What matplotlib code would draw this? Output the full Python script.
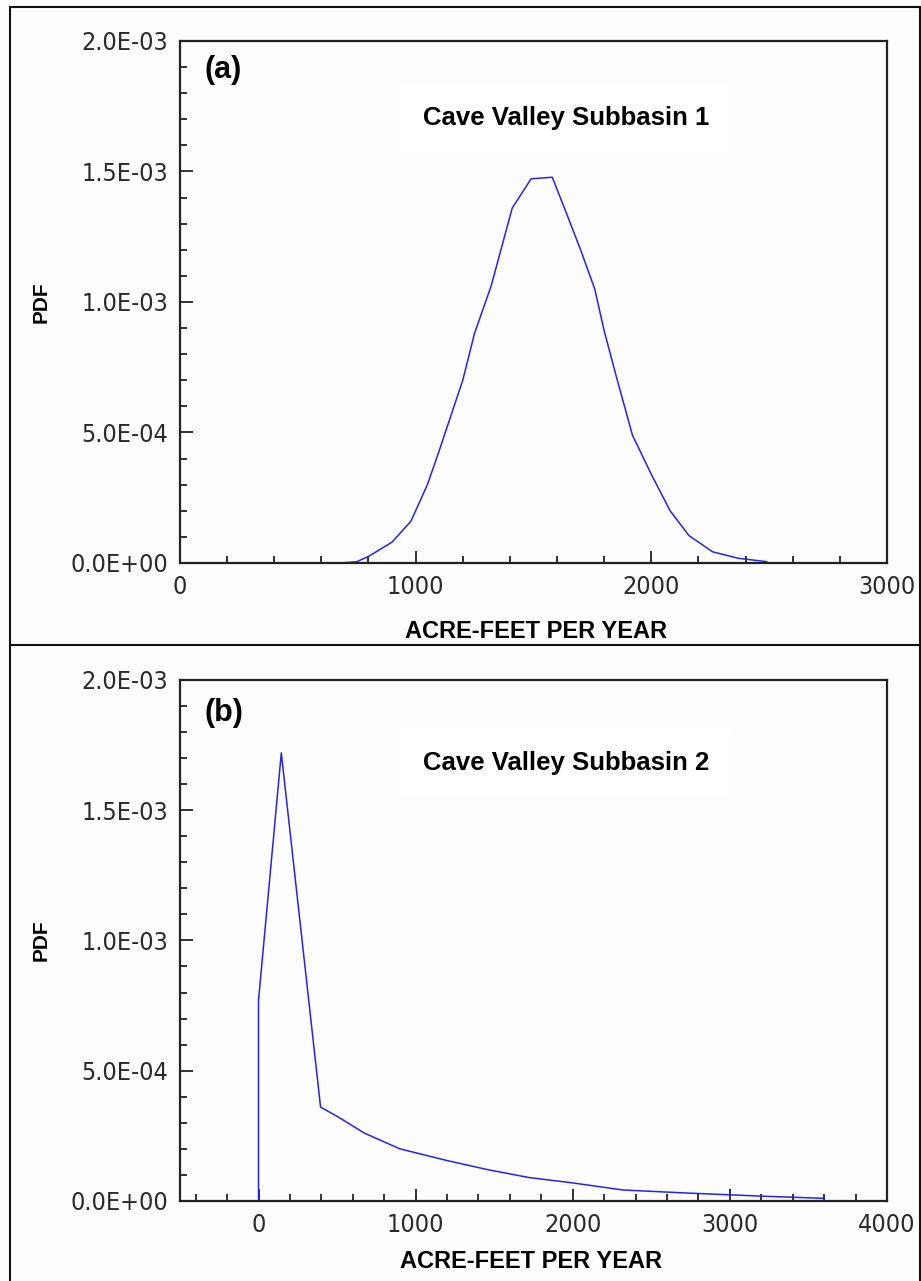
import numpy as np
import matplotlib
matplotlib.use("Agg")
import matplotlib.pyplot as plt
from matplotlib.lines import Line2D
from matplotlib.ticker import MultipleLocator, FuncFormatter

# panel (a): Cave Valley Subbasin 1
xa = [680, 750, 800, 900, 980, 1050, 1100, 1200, 1250, 1320, 1410, 1490, 1580,
      1640, 1700, 1760, 1800, 1850, 1920, 2000, 2080, 2160, 2260, 2370, 2490]
ya = [0, 0.05, 0.25, 0.8, 1.6, 3.0, 4.3, 7.0, 8.8, 10.6, 13.6, 14.72, 14.78,
      13.4, 12.0, 10.5, 8.9, 7.2, 4.9, 3.4, 2.0, 1.05, 0.43, 0.18, 0.05]

# panel (b): Cave Valley Subbasin 2
xb = [0, 0, 145, 395, 500, 675, 900, 1000, 1200, 1460, 1720, 1990, 2320, 2740, 3220, 3600]
yb = [0, 7.7, 17.2, 3.6, 3.25, 2.6, 2.0, 1.85, 1.55, 1.2, 0.9, 0.7, 0.42, 0.3, 0.18, 0.1]

bold = ['Liberation Sans', 'DejaVu Sans']

fig = plt.figure(figsize=(9.21, 12.81), dpi=100)
fig.patch.set_facecolor('#fdfdfd')


def sci(v, pos):
    if v == 0:
        return '0.0E+00'
    return '%.1E' % v


def setup(ax, xlim, tag, title, title_y, xlab_y, xlab_x, tag_y):
    ax.set_facecolor('#fdfdfd')
    ax.set_xlim(*xlim)
    ax.set_ylim(0, 2e-3)
    ax.xaxis.set_major_locator(MultipleLocator(1000))
    ax.xaxis.set_minor_locator(MultipleLocator(200))
    ax.yaxis.set_major_locator(MultipleLocator(5e-4))
    ax.yaxis.set_minor_locator(MultipleLocator(1e-4))
    ax.yaxis.set_major_formatter(FuncFormatter(sci))
    ax.tick_params(which='both', direction='in', top=False, right=False, width=1.3, color='#222222')
    ax.tick_params(which='major', length=9, pad=8.5, labelsize=18, labelcolor='#2a2a2a')
    ax.tick_params(which='minor', length=5)
    # narrow tick font like the original
    for lab in ax.get_xticklabels() + ax.get_yticklabels():
        lab.set_family('DejaVu Sans')
        lab.set_stretch('condensed')
    for sp in ax.spines.values():
        sp.set_linewidth(1.6)
        sp.set_color('#222222')
    ax.set_xlabel('ACRE-FEET PER YEAR', family=bold, fontweight='bold', fontsize=17, va='center')
    ax.xaxis.set_label_coords(xlab_x, xlab_y)
    ax.set_ylabel('PDF', family=bold, fontweight='bold', fontsize=15, va='center')
    ax.yaxis.set_label_coords(-0.196, 0.5)
    ax.text(0.034, tag_y, tag, transform=ax.transAxes, family=bold, fontweight='bold',
            fontsize=22, va='center')
    ax.text(0.546, title_y, title, transform=ax.transAxes, ha='center', va='center',
            family=bold, fontweight='bold', fontsize=18.5,
            bbox=dict(facecolor='white', edgecolor='none', pad=16))


ax1 = fig.add_axes([0.1954, 0.5605, 0.7676, 0.4075])
ax1.plot(xa, np.array(ya) * 1e-4, color='#2222ff', lw=1.1)
setup(ax1, (0, 3000), '(a)', 'Cave Valley Subbasin 1', 0.852, -0.132, 0.5035, 0.944)

ax2 = fig.add_axes([0.1954, 0.0625, 0.7676, 0.4067])
ax2.plot(xb, np.array(yb) * 1e-4, color='#2222ff', lw=1.1)
setup(ax2, (-500, 4000), '(b)', 'Cave Valley Subbasin 2', 0.841, -0.117, 0.497, 0.937)

# outer frame and divider
W, H = 921, 1281
for xs, ys in [([9.5, 9.5], [0, 1274.5]), ([9.5, 920], [1274.5, 1274.5]), ([920, 920], [0, 1274.5]),
               ([9.5, 920], [636, 636])]:
    fig.add_artist(Line2D(np.array(xs) / W, np.array(ys) / H, color='#111111', lw=1.5))

fig.savefig('out.png', dpi=100, facecolor=fig.get_facecolor())
